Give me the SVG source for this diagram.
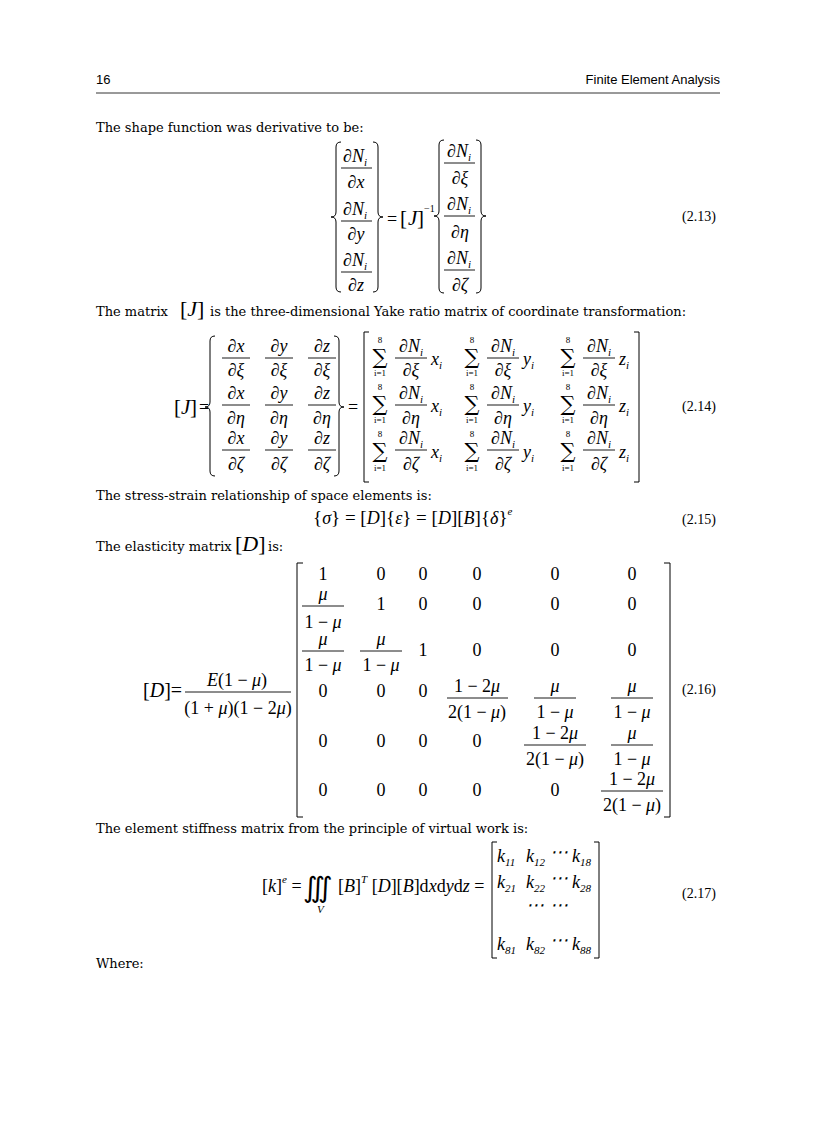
<svg xmlns="http://www.w3.org/2000/svg" width="816" height="1123" viewBox="0 0 816 1123">
<style>
.h{font-family:"Liberation Sans",Arial,sans-serif;font-size:13px;fill:#000}
.t{font-family:"DejaVu Serif","Liberation Serif",serif;font-size:13px;fill:#000}
.m{font-family:"Liberation Serif",serif;font-size:18px;font-style:italic;fill:#000}
.r{font-family:"Liberation Serif",serif;font-size:18px;fill:#000}
.s{font-family:"Liberation Serif",serif;font-size:11px;font-style:italic;fill:#000}
.sr{font-family:"Liberation Serif",serif;font-size:9px;fill:#000}
.en{font-family:"Liberation Serif",serif;font-size:14px;fill:#000}
.sum{font-family:"DejaVu Serif",serif;font-size:21px;fill:#000;text-anchor:middle}
.c{text-anchor:middle}
.b{stroke:#000;stroke-width:1;fill:none}
.f{stroke:#000;stroke-width:0.9}
</style>
<rect width="816" height="1123" fill="#fff"/>
<g id="header">
<text class="h" x="96" y="84">16</text>
<text class="h" x="720" y="84" text-anchor="end">Finite Element Analysis</text>
<line x1="96" y1="93" x2="720" y2="93" stroke="#000" stroke-width="0.8"/>
</g>
<text class="t" x="96" y="132">The shape function was derivative to be:</text>

<g id="eq213">
<path class="b" d="M341,142 Q336,142 336,147 L336,212 Q336,217 331,217 Q336,217 336,222 L336,287 Q336,292 341,292"/>
<path class="b" d="M373,142 Q378,142 378,147 L378,212 Q378,217 383,217 Q378,217 378,222 L378,287 Q378,292 373,292"/>
<text class="m c" x="355" y="162">∂N<tspan class="s" dy="4">i</tspan></text>
<line class="f" x1="341" y1="168" x2="372" y2="168"/>
<text class="m c" x="356" y="188">∂x</text>
<text class="m c" x="355" y="215">∂N<tspan class="s" dy="4">i</tspan></text>
<line class="f" x1="341" y1="221" x2="372" y2="221"/>
<text class="m c" x="356" y="240">∂y</text>
<text class="m c" x="355" y="266">∂N<tspan class="s" dy="4">i</tspan></text>
<line class="f" x1="341" y1="272" x2="372" y2="272"/>
<text class="m c" x="356" y="291">∂z</text>
<text class="r" x="387" y="225">=</text>
<text class="r" x="400" y="225" style="font-size:21px">[</text><text class="m" x="408" y="225" style="font-size:21px">J</text><text class="r" x="417" y="225" style="font-size:21px">]</text>
<text class="sr" x="424" y="212" style="font-size:10px">−1</text>
<path class="b" d="M444,140 Q439,140 439,145 L439,211 Q439,216 434,216 Q439,216 439,221 L439,288 Q439,293 444,293"/>
<path class="b" d="M476,140 Q481,140 481,145 L481,211 Q481,216 486,216 Q481,216 481,221 L481,288 Q481,293 476,293"/>
<text class="m c" x="459" y="157">∂N<tspan class="s" dy="4">i</tspan></text>
<line class="f" x1="444" y1="163" x2="475" y2="163"/>
<text class="m c" x="460" y="184">∂ξ</text>
<text class="m c" x="459" y="210">∂N<tspan class="s" dy="4">i</tspan></text>
<line class="f" x1="444" y1="216" x2="475" y2="216"/>
<text class="m c" x="460" y="238">∂η</text>
<text class="m c" x="459" y="264">∂N<tspan class="s" dy="4">i</tspan></text>
<line class="f" x1="444" y1="270" x2="475" y2="270"/>
<text class="m c" x="460" y="291">∂ζ</text>
<text class="en" x="682" y="221">(2.13)</text>
</g>

<text class="t" x="96" y="316">The matrix <tspan x="180" class="r" style="font-size:22px">[</tspan><tspan class="m" style="font-size:22px">J</tspan><tspan class="r" style="font-size:22px">]</tspan><tspan x="210">is the three-dimensional Yake ratio matrix of coordinate transformation:</tspan></text>

<g id="eq214">
<text class="r" x="174" y="414" style="font-size:21px">[</text><text class="m" x="181" y="414" style="font-size:21px">J</text><text class="r" x="190" y="414" style="font-size:21px">]</text>
<text class="r" x="199" y="413">=</text>
<path class="b" d="M215,336 Q210,336 210,341 L210,402 Q210,407 205,407 Q210,407 210,412 L210,471 Q210,476 215,476"/>
<path class="b" d="M334,336 Q339,336 339,341 L339,402 Q339,407 344,407 Q339,407 339,412 L339,471 Q339,476 334,476"/>
<g id="jleft">
<text class="m c" x="236" y="352">∂x</text><line class="f" x1="222" y1="358" x2="250" y2="358"/><text class="m c" x="236" y="376">∂ξ</text>
<text class="m c" x="279" y="352">∂y</text><line class="f" x1="265" y1="358" x2="293" y2="358"/><text class="m c" x="279" y="376">∂ξ</text>
<text class="m c" x="322" y="352">∂z</text><line class="f" x1="308" y1="358" x2="336" y2="358"/><text class="m c" x="322" y="376">∂ξ</text>
<text class="m c" x="236" y="399">∂x</text><line class="f" x1="222" y1="405" x2="250" y2="405"/><text class="m c" x="236" y="424">∂η</text>
<text class="m c" x="279" y="399">∂y</text><line class="f" x1="265" y1="405" x2="293" y2="405"/><text class="m c" x="279" y="424">∂η</text>
<text class="m c" x="322" y="399">∂z</text><line class="f" x1="308" y1="405" x2="336" y2="405"/><text class="m c" x="322" y="424">∂η</text>
<text class="m c" x="236" y="444">∂x</text><line class="f" x1="222" y1="450" x2="250" y2="450"/><text class="m c" x="236" y="470">∂ζ</text>
<text class="m c" x="279" y="444">∂y</text><line class="f" x1="265" y1="450" x2="293" y2="450"/><text class="m c" x="279" y="470">∂ζ</text>
<text class="m c" x="322" y="444">∂z</text><line class="f" x1="308" y1="450" x2="336" y2="450"/><text class="m c" x="322" y="470">∂ζ</text>
</g>
<text class="r" x="348" y="413">=</text>
<path class="b" d="M369,332 L364,332 L364,482 L369,482"/>
<path class="b" d="M634,332 L639,332 L639,482 L634,482"/>
<g id="jright">
<text class="sr c" x="380" y="343">8</text><text class="sum" x="380" y="364">∑</text><text class="sr c" x="380" y="376">i=1</text>
<text class="m c" x="411" y="352">∂N<tspan class="s" dy="4">i</tspan></text><line class="f" x1="395" y1="358" x2="427" y2="358"/><text class="m c" x="411" y="376">∂ξ</text><text class="m" x="431" y="365">x<tspan class="s" dy="4">i</tspan></text>
<text class="sr c" x="472" y="343">8</text><text class="sum" x="472" y="364">∑</text><text class="sr c" x="472" y="376">i=1</text>
<text class="m c" x="503" y="352">∂N<tspan class="s" dy="4">i</tspan></text><line class="f" x1="487" y1="358" x2="519" y2="358"/><text class="m c" x="503" y="376">∂ξ</text><text class="m" x="523" y="365">y<tspan class="s" dy="4">i</tspan></text>
<text class="sr c" x="568" y="343">8</text><text class="sum" x="568" y="364">∑</text><text class="sr c" x="568" y="376">i=1</text>
<text class="m c" x="599" y="352">∂N<tspan class="s" dy="4">i</tspan></text><line class="f" x1="583" y1="358" x2="615" y2="358"/><text class="m c" x="599" y="376">∂ξ</text><text class="m" x="619" y="365">z<tspan class="s" dy="4">i</tspan></text>

<text class="sr c" x="380" y="390">8</text><text class="sum" x="380" y="411">∑</text><text class="sr c" x="380" y="423">i=1</text>
<text class="m c" x="411" y="399">∂N<tspan class="s" dy="4">i</tspan></text><line class="f" x1="395" y1="405" x2="427" y2="405"/><text class="m c" x="411" y="424">∂η</text><text class="m" x="431" y="412">x<tspan class="s" dy="4">i</tspan></text>
<text class="sr c" x="472" y="390">8</text><text class="sum" x="472" y="411">∑</text><text class="sr c" x="472" y="423">i=1</text>
<text class="m c" x="503" y="399">∂N<tspan class="s" dy="4">i</tspan></text><line class="f" x1="487" y1="405" x2="519" y2="405"/><text class="m c" x="503" y="424">∂η</text><text class="m" x="523" y="412">y<tspan class="s" dy="4">i</tspan></text>
<text class="sr c" x="568" y="390">8</text><text class="sum" x="568" y="411">∑</text><text class="sr c" x="568" y="423">i=1</text>
<text class="m c" x="599" y="399">∂N<tspan class="s" dy="4">i</tspan></text><line class="f" x1="583" y1="405" x2="615" y2="405"/><text class="m c" x="599" y="424">∂η</text><text class="m" x="619" y="412">z<tspan class="s" dy="4">i</tspan></text>

<text class="sr c" x="380" y="437">8</text><text class="sum" x="380" y="458">∑</text><text class="sr c" x="380" y="471">i=1</text>
<text class="m c" x="411" y="444">∂N<tspan class="s" dy="4">i</tspan></text><line class="f" x1="395" y1="450" x2="427" y2="450"/><text class="m c" x="411" y="470">∂ζ</text><text class="m" x="431" y="458">x<tspan class="s" dy="4">i</tspan></text>
<text class="sr c" x="472" y="437">8</text><text class="sum" x="472" y="458">∑</text><text class="sr c" x="472" y="471">i=1</text>
<text class="m c" x="503" y="444">∂N<tspan class="s" dy="4">i</tspan></text><line class="f" x1="487" y1="450" x2="519" y2="450"/><text class="m c" x="503" y="470">∂ζ</text><text class="m" x="523" y="458">y<tspan class="s" dy="4">i</tspan></text>
<text class="sr c" x="568" y="437">8</text><text class="sum" x="568" y="458">∑</text><text class="sr c" x="568" y="471">i=1</text>
<text class="m c" x="599" y="444">∂N<tspan class="s" dy="4">i</tspan></text><line class="f" x1="583" y1="450" x2="615" y2="450"/><text class="m c" x="599" y="470">∂ζ</text><text class="m" x="619" y="458">z<tspan class="s" dy="4">i</tspan></text>
</g>
<text class="en" x="682" y="411">(2.14)</text>
</g>

<text class="t" x="96" y="500">The stress-strain relationship of space elements is:</text>
<g id="eq215">
<text class="r" x="313" y="524" style="font-size:19px">{<tspan class="m">σ</tspan>} = [<tspan class="m">D</tspan>]{<tspan class="m">ε</tspan>} = [<tspan class="m">D</tspan>][<tspan class="m">B</tspan>]{<tspan class="m">δ</tspan>}<tspan class="s" dy="-9">e</tspan></text>
<text class="en" x="682" y="524">(2.15)</text>
</g>
<text class="t" x="96" y="551">The elasticity matrix <tspan x="235" class="r" style="font-size:22px">[</tspan><tspan class="m" style="font-size:22px">D</tspan><tspan class="r" style="font-size:22px">]</tspan><tspan x="268">is:</tspan></text>

<g id="eq216">
<text class="r" x="143" y="697" style="font-size:20px">[<tspan class="m" style="font-size:20px">D</tspan>]=</text>
<text class="r c" x="237" y="686"><tspan class="m">E</tspan>(1 − <tspan class="m">μ</tspan>)</text>
<line class="f" x1="185" y1="692" x2="291" y2="692"/>
<text class="r c" x="238" y="714">(1 + <tspan class="m">μ</tspan>)(1 − 2<tspan class="m">μ</tspan>)</text>
<path class="b" d="M303,563 L297,563 L297,817 L303,817"/>
<path class="b" d="M664,563 L670,563 L670,817 L664,817"/>
<g class="r c">
<text x="323" y="580">1</text><text x="381" y="580">0</text><text x="423" y="580">0</text><text x="477" y="580">0</text><text x="555" y="580">0</text><text x="632" y="580">0</text>
<text class="m" x="323" y="600">μ</text><text x="323" y="628">1 − <tspan class="m">μ</tspan></text>
<text x="381" y="610">1</text><text x="423" y="610">0</text><text x="477" y="610">0</text><text x="555" y="610">0</text><text x="632" y="610">0</text>
<text class="m" x="323" y="645">μ</text><text x="323" y="671">1 − <tspan class="m">μ</tspan></text>
<text class="m" x="381" y="645">μ</text><text x="381" y="671">1 − <tspan class="m">μ</tspan></text>
<text x="423" y="656">1</text><text x="477" y="656">0</text><text x="555" y="656">0</text><text x="632" y="656">0</text>
<text x="323" y="697">0</text><text x="381" y="697">0</text><text x="423" y="697">0</text>
<text x="477" y="692">1 − 2<tspan class="m">μ</tspan></text><text x="477" y="718">2(1 − <tspan class="m">μ</tspan>)</text>
<text class="m" x="555" y="692">μ</text><text x="555" y="718">1 − <tspan class="m">μ</tspan></text>
<text class="m" x="632" y="692">μ</text><text x="632" y="718">1 − <tspan class="m">μ</tspan></text>
<text x="323" y="747">0</text><text x="381" y="747">0</text><text x="423" y="747">0</text><text x="477" y="747">0</text>
<text x="555" y="739">1 − 2<tspan class="m">μ</tspan></text><text x="555" y="765">2(1 − <tspan class="m">μ</tspan>)</text>
<text class="m" x="632" y="739">μ</text><text x="632" y="765">1 − <tspan class="m">μ</tspan></text>
<text x="323" y="796">0</text><text x="381" y="796">0</text><text x="423" y="796">0</text><text x="477" y="796">0</text><text x="555" y="796">0</text>
<text x="632" y="785">1 − 2<tspan class="m">μ</tspan></text><text x="632" y="811">2(1 − <tspan class="m">μ</tspan>)</text>
</g>
<g class="f">
<line x1="302" y1="606" x2="344" y2="606"/>
<line x1="302" y1="651" x2="344" y2="651"/><line x1="360" y1="651" x2="402" y2="651"/>
<line x1="447" y1="698" x2="508" y2="698"/><line x1="534" y1="698" x2="576" y2="698"/><line x1="611" y1="698" x2="653" y2="698"/>
<line x1="524" y1="745" x2="586" y2="745"/><line x1="611" y1="745" x2="653" y2="745"/>
<line x1="601" y1="791" x2="663" y2="791"/>
</g>
<text class="en" x="682" y="694">(2.16)</text>
</g>

<text class="t" x="96" y="833">The element stiffness matrix from the principle of virtual work is:</text>
<g id="eq217">
<text class="r" x="262" y="892">[<tspan class="m">k</tspan>]<tspan class="s" dy="-9">e</tspan><tspan dy="9"> =</tspan></text>
<text class="r" x="303" y="897" style="font-size:28px">∭</text>
<text class="s" x="317" y="913">V</text>
<text class="r" x="338" y="892">[<tspan class="m">B</tspan>]<tspan class="s" dy="-9">T</tspan><tspan dy="9"> [</tspan><tspan class="m">D</tspan>][<tspan class="m">B</tspan>]d<tspan class="m">x</tspan>d<tspan class="m">y</tspan>d<tspan class="m">z</tspan> =</text>
<path class="b" d="M497,842 L492,842 L492,958 L497,958"/>
<path class="b" d="M594,842 L599,842 L599,958 L594,958"/>
<g class="m">
<text x="497" y="862">k<tspan class="sr" dy="4" style="font-size:11px">11</tspan></text><text x="526" y="862">k<tspan class="sr" dy="4" style="font-size:11px">12</tspan></text><text class="r" x="550" y="858">⋯</text><text x="572" y="862">k<tspan class="sr" dy="4" style="font-size:11px">18</tspan></text>
<text x="497" y="888">k<tspan class="sr" dy="4" style="font-size:11px">21</tspan></text><text x="526" y="888">k<tspan class="sr" dy="4" style="font-size:11px">22</tspan></text><text class="r" x="550" y="884">⋯</text><text x="572" y="888">k<tspan class="sr" dy="4" style="font-size:11px">28</tspan></text>
<text class="r" x="526" y="911">⋯</text><text class="r" x="550" y="911">⋯</text>
<text x="497" y="950">k<tspan class="sr" dy="4" style="font-size:11px">81</tspan></text><text x="526" y="950">k<tspan class="sr" dy="4" style="font-size:11px">82</tspan></text><text class="r" x="550" y="946">⋯</text><text x="572" y="950">k<tspan class="sr" dy="4" style="font-size:11px">88</tspan></text>
</g>
<text class="en" x="682" y="898">(2.17)</text>
</g>
<text class="t" x="96" y="968">Where:</text>
</svg>
